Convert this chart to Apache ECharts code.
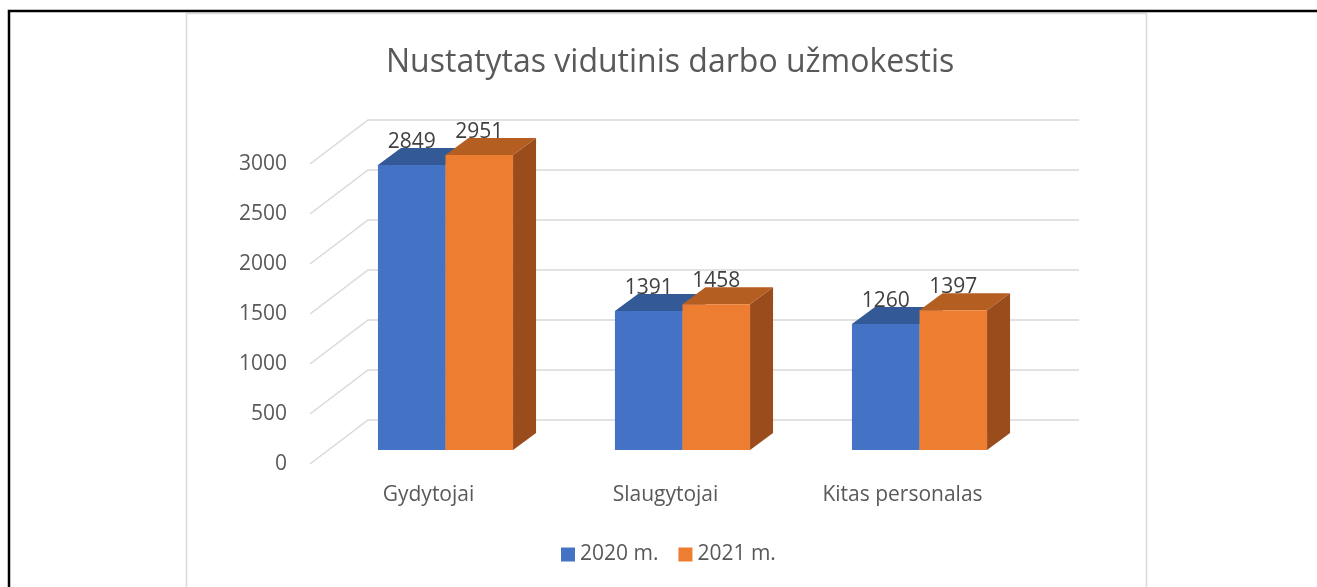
<!DOCTYPE html>
<html>
<head>
<meta charset="utf-8">
<script src="https://cdn.jsdelivr.net/npm/echarts@6/dist/echarts.min.js"></script>
<style>
  html, body { margin: 0; padding: 0; background: #fff; }
  #chart { width: 1317px; height: 587px; }
</style>
</head>
<body>
<div id="chart"></div>
<script>
// Chart data
const categories = ['Gydytojai', 'Slaugytojai', 'Kitas personalas'];
const seriesNames = ['2020 m.', '2021 m.'];
const values2020 = [2849, 1391, 1260];
const values2021 = [2951, 1458, 1397];
const yTicks = [0, 500, 1000, 1500, 2000, 2500, 3000];

// 3D look: offsets of the floor front edge, bar depth and back wall
const FLOOR = [-17, 14];
const DEPTH = [23, -17];
const WALL = [41, -30];
const BAR_FRAC = 0.285;

const TEXT = '#595959';
const FONT = 'Open Sans';
const FS = 21;

const palettes = [
  { front: '#4472C4', top: '#335A96', side: '#2F5597' },
  { front: '#ED7D31', top: '#B55E22', side: '#9A4C1D' }
];

const chart = echarts.init(document.getElementById('chart'));

function gridLineItem(params, api) {
  const cs = params.coordSys;
  const y = api.coord([0, api.value(1)])[1];
  return {
    type: 'polyline',
    shape: {
      points: [
        [cs.x + FLOOR[0], y + FLOOR[1]],
        [cs.x + WALL[0], y + WALL[1]],
        [cs.x + cs.width + WALL[0], y + WALL[1]]
      ]
    },
    style: { stroke: '#d9d9d9', lineWidth: 1.5, fill: null }
  };
}

function barItem(seriesIdx) {
  const pal = palettes[seriesIdx];
  return function (params, api) {
    const cat = api.value(0);
    const val = api.value(1);
    const top = api.coord([cat, val]);
    const base = api.coord([cat, 0]);
    const w = api.size([1, 0])[0] * BAR_FRAC;
    const x0 = seriesIdx === 0 ? top[0] - w : top[0];
    const x1 = x0 + w;
    const yt = top[1];
    const yb = base[1];
    const dx = DEPTH[0], dy = DEPTH[1];
    return {
      type: 'group',
      children: [
        {
          type: 'polygon',
          shape: { points: [[x1, yt], [x1 + dx, yt + dy], [x1 + dx, yb + dy], [x1, yb]] },
          style: { fill: pal.side }
        },
        {
          type: 'polygon',
          shape: { points: [[x0, yt], [x0 + dx, yt + dy], [x1 + dx, yt + dy], [x1, yt]] },
          style: { fill: pal.top }
        },
        {
          type: 'rect',
          shape: { x: x0, y: yt, width: w, height: yb - yt },
          style: { fill: pal.front }
        },
        {
          type: 'text',
          x: (x0 + x1) / 2,
          y: yt - 23,
          style: {
            text: String(val),
            fill: '#404040',
            font: FS + 'px "' + FONT + '"',
            align: 'center',
            verticalAlign: 'middle'
          }
        }
      ]
    };
  };
}

const plotW = 711;

chart.setOption({
  animation: false,
  backgroundColor: '#fff',
  textStyle: { fontFamily: FONT },
  title: {
    text: 'Nustatytas vidutinis darbo užmokestis',
    left: 381,
    top: 42,
    textStyle: { color: TEXT, fontSize: 32, fontWeight: 'normal', fontFamily: FONT }
  },
  legend: {
    bottom: 17,
    left: 556,
    itemWidth: 14,
    itemHeight: 14,
    itemGap: 20,
    icon: 'rect',
    data: seriesNames,
    textStyle: { color: TEXT, fontSize: FS, fontFamily: FONT }
  },
  graphic: [
    {
      type: 'rect',
      shape: { x: 186.5, y: 13.5, width: 960, height: 600 },
      style: { fill: null, stroke: '#d9d9d9', lineWidth: 1.5 },
      z: -10
    },
    {
      type: 'polyline',
      shape: { points: [[9, 600], [9, 11], [1320, 11]] },
      style: { fill: null, stroke: '#000', lineWidth: 2.5 },
      z: -10
    }
  ],
  grid: [
    // floor front edge: axis labels
    { left: 327 + FLOOR[0], top: 150 + FLOOR[1], width: plotW, height: 300 },
    // bar front plane
    { left: 327, top: 150, width: plotW, height: 300 }
  ],
  xAxis: [
    {
      gridIndex: 0,
      type: 'category',
      data: categories,
      axisLine: { show: false },
      axisTick: { show: false },
      axisLabel: { color: TEXT, fontSize: FS, margin: 21, fontFamily: FONT }
    },
    {
      gridIndex: 1,
      type: 'category',
      data: categories,
      show: false
    }
  ],
  yAxis: [
    {
      gridIndex: 0,
      type: 'value',
      min: 0,
      max: 3000,
      interval: 500,
      axisLine: { show: false },
      axisTick: { show: false },
      splitLine: { show: false },
      axisLabel: { color: TEXT, fontSize: FS, margin: 23, fontFamily: FONT, formatter: v => String(v) }
    },
    {
      gridIndex: 1,
      type: 'value',
      min: 0,
      max: 3000,
      interval: 500,
      show: false,
      splitLine: { show: false }
    }
  ],
  series: [
    {
      type: 'custom',
      name: 'grid',
      xAxisIndex: 1,
      yAxisIndex: 1,
      clip: false,
      silent: true,
      z: 1,
      renderItem: gridLineItem,
      data: yTicks.map(v => [0, v])
    },
    {
      type: 'custom',
      name: seriesNames[0],
      xAxisIndex: 1,
      yAxisIndex: 1,
      clip: false,
      z: 2,
      itemStyle: { color: palettes[0].front },
      renderItem: barItem(0),
      data: values2020.map((v, i) => [i, v])
    },
    {
      type: 'custom',
      name: seriesNames[1],
      xAxisIndex: 1,
      yAxisIndex: 1,
      clip: false,
      z: 3,
      itemStyle: { color: palettes[1].front },
      renderItem: barItem(1),
      data: values2021.map((v, i) => [i, v])
    }
  ]
});
</script>
</body>
</html>
